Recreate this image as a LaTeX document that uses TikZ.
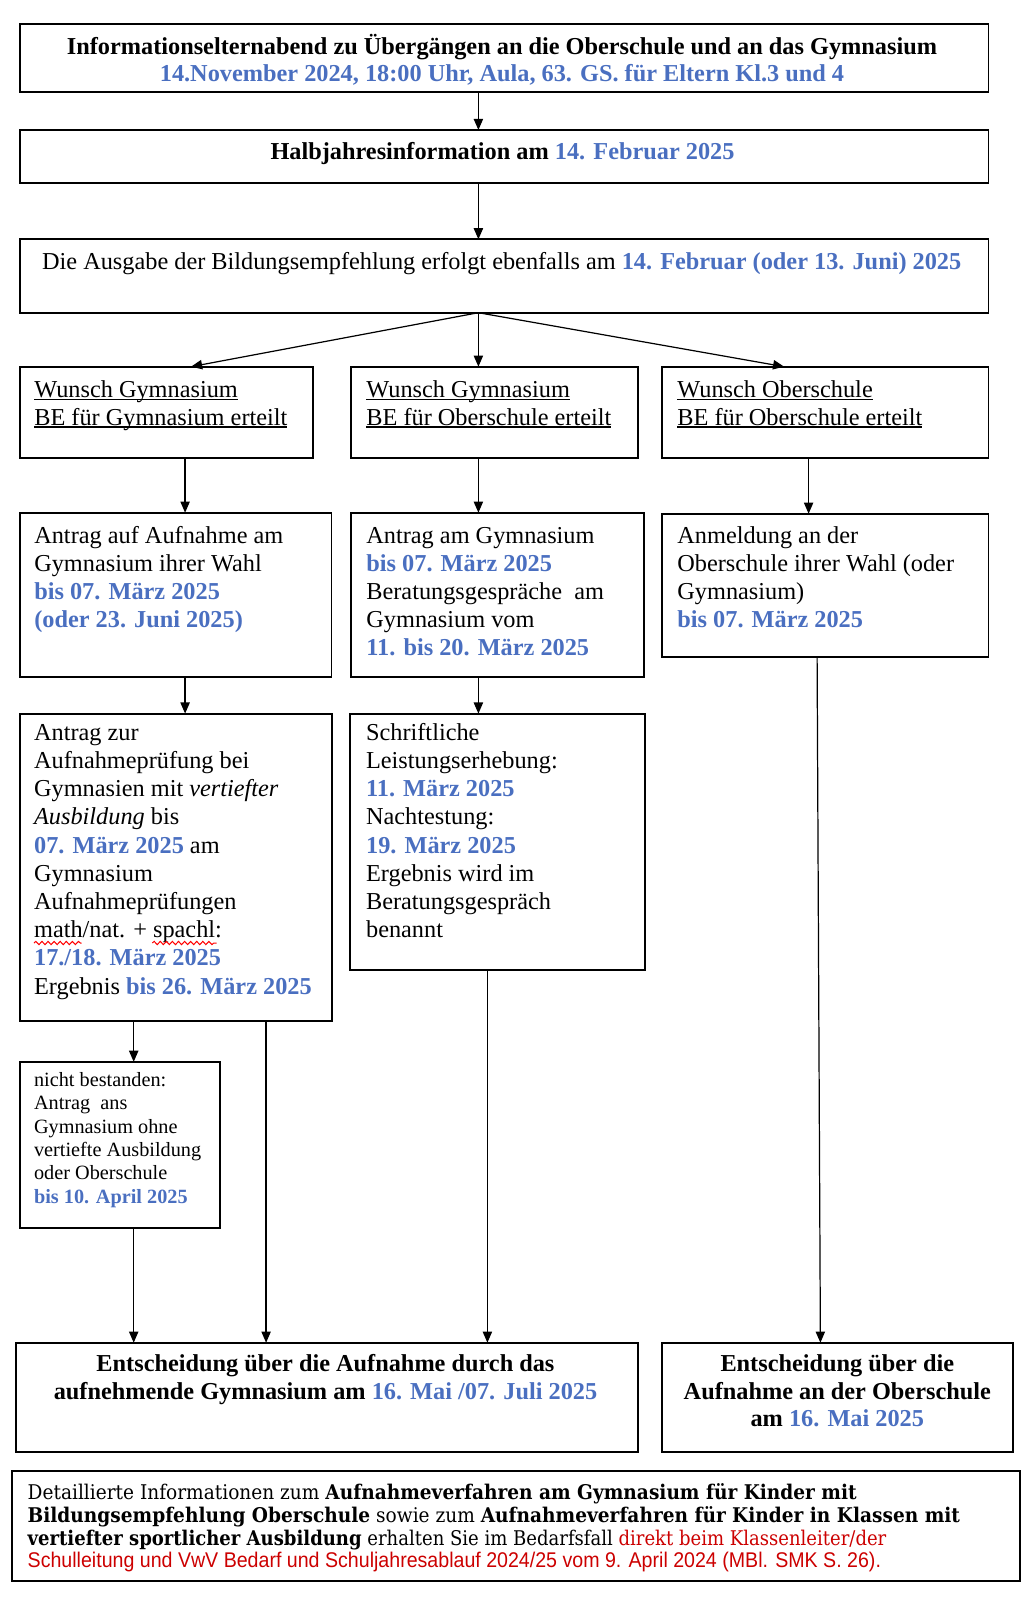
\documentclass[tikz,border=0pt]{standalone}
\usepackage{fontspec}
\setmainfont{Liberation Serif}
\newfontfamily\geo{DejaVu Serif}
\newfontfamily\ari{Liberation Sans}
\usetikzlibrary{arrows.meta,fit,decorations.pathmorphing}
\definecolor{bl}{HTML}{4A6FC0}
\definecolor{rd}{RGB}{204,0,0}
\newcommand\blu[1]{\textbf{\color{bl}#1}}
\newcommand\ulx[1]{\setbox0\hbox{#1}\rlap{\rule[-1.3pt]{\wd0}{0.6pt}}\box0}
\newcommand\Ln[4]{\node[txt,anchor=base west] (#1) at (#2,#3) {#4};}
\newcommand\Lc[4]{\node[txt,anchor=base] (#1) at (#2,#3) {#4};}
\begin{document}
\begin{tikzpicture}[x=0.4938pt,y=-0.4938pt,
  box/.style={draw,line width=0.9pt,inner sep=0pt,outer sep=0pt},
  arr/.style={-{Triangle[length=5.5pt,width=4.6pt]},line width=0.6pt},
  ln/.style={line width=0.6pt},
  txt/.style={inner sep=0pt,outer sep=0pt,font=\fontsize{12}{13.93}\selectfont},
  small/.style={inner sep=0pt,outer sep=0pt,font=\fontsize{10}{11.5}\selectfont},
  wavy/.style={draw=red,line width=0.5pt,decorate,decoration={snake,amplitude=0.8pt,segment length=3pt}}]
\useasboundingbox (0,0) rectangle (1028,1602);
% x positions of connectors
\coordinate (xm) at (478.4,0);
\coordinate (xa) at (185.1,0);
\coordinate (xc) at (808.6,0);
\coordinate (xl) at (191,0);
\coordinate (xr) at (784.2,0);
\coordinate (xn) at (133.7,0);
\coordinate (xp) at (266.1,0);
\coordinate (xq) at (487.4,0);
\coordinate (xs) at (817.1,0);
\coordinate (xt) at (820.4,0);
% boxes
\node[box,fit={(19.8,24) (988.5,91.7)}] (b1) {};
\node[box,fit={(19.8,130) (988.5,182.7)}] (b2) {};
\node[box,fit={(19.8,239.3) (988.5,312.7)}] (b3) {};
\node[box,fit={(19.8,366.7) (313,457.7)}] (r1a) {};
\node[box,fit={(350.6,366.7) (638,457.7)}] (r1b) {};
\node[box,fit={(662.3,366.7) (988.5,457.7)}] (r1c) {};
\node[box,fit={(19.8,512.7) (331.5,676.7)}] (r2a) {};
\node[box,fit={(350.6,512.7) (644,676.7)}] (r2b) {};
\node[box,fit={(662.3,513.7) (988.5,656.7)}] (r2c) {};
\node[box,fit={(19.7,713.6) (332,1021.2)}] (r3a) {};
\node[box,fit={(350.4,713.6) (644.8,970)}] (r3b) {};
\node[box,fit={(19.7,1061.8) (219.9,1227.6)}] (nb) {};
\node[box,fit={(15.8,1342.7) (637.9,1452)}] (fa) {};
\node[box,fit={(662.3,1342.7) (1012.9,1452)}] (fb) {};
\node[box,fit={(11.9,1470.7) (1020.1,1580.7)}] (fc) {};
% texts
\Lc{t1}{502}{54}{\textbf{Informationselternabend zu Übergängen an die Oberschule und an das Gymnasium}}
\Lc{t2}{502}{81}{\blu{14.November 2024, 18:00 Uhr, Aula, 63. GS. für Eltern Kl.3 und 4}}
\Lc{t3}{502.5}{159.3}{\textbf{Halbjahresinformation am \color{bl}14. Februar 2025}}
\Lc{t4}{501.7}{269.3}{Die Ausgabe der Bildungsempfehlung erfolgt ebenfalls am \blu{14. Februar (oder 13. Juni) 2025}}
\Ln{ua1}{34.3}{397.7}{\ulx{Wunsch Gymnasium}}
\Ln{ua2}{34.3}{425}{\ulx{BE für Gymnasium erteilt}}
\Ln{ub1}{366.4}{397.7}{\ulx{Wunsch Gymnasium}}
\Ln{ub2}{366.4}{425}{\ulx{BE für Oberschule erteilt}}
\Ln{uc1}{677.4}{397.7}{\ulx{Wunsch Oberschule}}
\Ln{uc2}{677.4}{425}{\ulx{BE für Oberschule erteilt}}
\Ln{a1}{34.3}{543.3}{Antrag auf Aufnahme am}
\Ln{a2}{34.3}{571.3}{Gymnasium ihrer Wahl}
\Ln{a3}{34.3}{599.3}{\blu{bis 07. März 2025}}
\Ln{a4}{34.3}{627.3}{\blu{(oder 23. Juni 2025)}}
\Ln{b1t}{366.4}{543.3}{Antrag am Gymnasium}
\Ln{b2t}{366.4}{571.3}{\blu{bis 07. März 2025}}
\Ln{b3t}{366.4}{599.3}{Beratungsgespräche\ \ am}
\Ln{b4t}{366.4}{627.3}{Gymnasium vom}
\Ln{b5t}{366.4}{655.3}{\blu{11. bis 20. März 2025}}
\Ln{c1}{677.4}{543.3}{Anmeldung an der}
\Ln{c2}{677.4}{571.3}{Oberschule ihrer Wahl (oder}
\Ln{c3}{677.4}{599.3}{Gymnasium)}
\Ln{c4}{677.4}{627.3}{\blu{bis 07. März 2025}}
\Ln{d0}{34.1}{740.2}{Antrag zur}
\Ln{d1}{34.1}{768.4}{Aufnahmeprüfung bei}
\Ln{d2}{34.1}{796.6}{Gymnasien mit \textit{vertiefter}}
\Ln{d3}{34.1}{824.8}{\textit{Ausbildung} bis}
\Ln{d4}{34.1}{853.0}{\blu{07. März 2025} am}
\Ln{d5}{34.1}{881.2}{Gymnasium}
\Ln{d6}{34.1}{909.4}{Aufnahmeprüfungen}
\Ln{d7}{34.1}{937.6}{math/nat. + spachl:}
\Ln{d8}{34.1}{965.8}{\blu{17./18. März 2025}}
\Ln{d9}{34.1}{994.0}{Ergebnis \blu{bis 26. März 2025}}
\draw[wavy] (34,943) -- (81.7,943);
\draw[wavy] (152.3,943) -- (216.7,943);
\Ln{e0}{366.1}{740.2}{Schriftliche}
\Ln{e1}{366.1}{768.4}{Leistungserhebung:}
\Ln{e2}{366.1}{796.6}{\blu{11. März 2025}}
\Ln{e3}{366.1}{824.8}{Nachtestung:}
\Ln{e4}{366.1}{853.0}{\blu{19. März 2025}}
\Ln{e5}{366.1}{881.2}{Ergebnis wird im}
\Ln{e6}{366.1}{909.4}{Beratungsgespräch}
\Ln{e7}{366.1}{937.6}{benannt}
\node[small,anchor=base west] (n0) at (34.1,1086.5) {nicht bestanden:};
\node[small,anchor=base west] (n1) at (34.1,1109.8) {Antrag\ \ ans};
\node[small,anchor=base west] (n2) at (34.1,1133.1) {Gymnasium ohne};
\node[small,anchor=base west] (n3) at (34.1,1156.4) {vertiefte Ausbildung};
\node[small,anchor=base west] (n4) at (34.1,1179.7) {oder Oberschule};
\node[small,anchor=base west] (n5) at (34.1,1203.0) {\blu{bis 10. April 2025}};
\Lc{f1}{325.5}{1371}{\textbf{Entscheidung über die Aufnahme durch das}}
\Lc{f2}{325.5}{1399}{\textbf{aufnehmende Gymnasium am \color{bl}16. Mai /07. Juli 2025}}
\Lc{g1}{837.3}{1371}{\textbf{Entscheidung über die}}
\Lc{g2}{837.3}{1399}{\textbf{Aufnahme an der Oberschule}}
\Lc{g3}{837.3}{1426.7}{\textbf{am \color{bl}16. Mai 2025}}
\node[small,anchor=base west] (h1) at (27.7,1499.3) {\resizebox{409.4pt}{\height}{\geo Detaillierte Informationen zum \textbf{Aufnahmeverfahren am Gymnasium für Kinder mit}}};
\node[small,anchor=base west] (h2) at (27.7,1522.3) {\resizebox{460.4pt}{\height}{\geo\textbf{Bildungsempfehlung Oberschule} sowie zum \textbf{Aufnahmeverfahren für Kinder in Klassen mit}}};
\node[small,anchor=base west] (h3) at (27.7,1545) {\resizebox{424pt}{\height}{\geo\textbf{vertiefter sportlicher Ausbildung} erhalten Sie im Bedarfsfall \textcolor{rd}{direkt beim Klassenleiter/der}}};
\node[small,anchor=base west] (h4) at (27.7,1567.7) {\resizebox{421.4pt}{\height}{\fontsize{10.5}{12}\ari\color{rd}Schulleitung und VwV Bedarf und Schuljahresablauf 2024/25 vom 9. April 2024 (MBl. SMK S. 26).}};
% connectors
\draw[arr] (b1.south -| xm) -- (b2.north -| xm);
\draw[arr] (b2.south -| xm) -- (b3.north -| xm);
\draw[arr] (b3.south -| xm) -- (r1a.north -| xl);
\draw[arr] (b3.south -| xm) -- (r1b.north -| xm);
\draw[arr] (b3.south -| xm) -- (r1c.north -| xr);
\draw[arr] (r1a.south -| xa) -- (r2a.north -| xa);
\draw[arr] (r1b.south -| xm) -- (r2b.north -| xm);
\draw[arr] (r1c.south -| xc) -- (r2c.north -| xc);
\draw[arr] (r2a.south -| xa) -- (r3a.north -| xa);
\draw[arr] (r2b.south -| xm) -- (r3b.north -| xm);
\draw[arr] (r3a.south -| xn) -- (nb.north -| xn);
\draw[arr] (nb.south -| xn) -- (fa.north -| xn);
\draw[arr] (r3a.south -| xp) -- (fa.north -| xp);
\draw[arr] (r3b.south -| xq) -- (fa.north -| xq);
\draw[arr] (r2c.south -| xs) -- (fb.north -| xt);
\end{tikzpicture}
\end{document}
